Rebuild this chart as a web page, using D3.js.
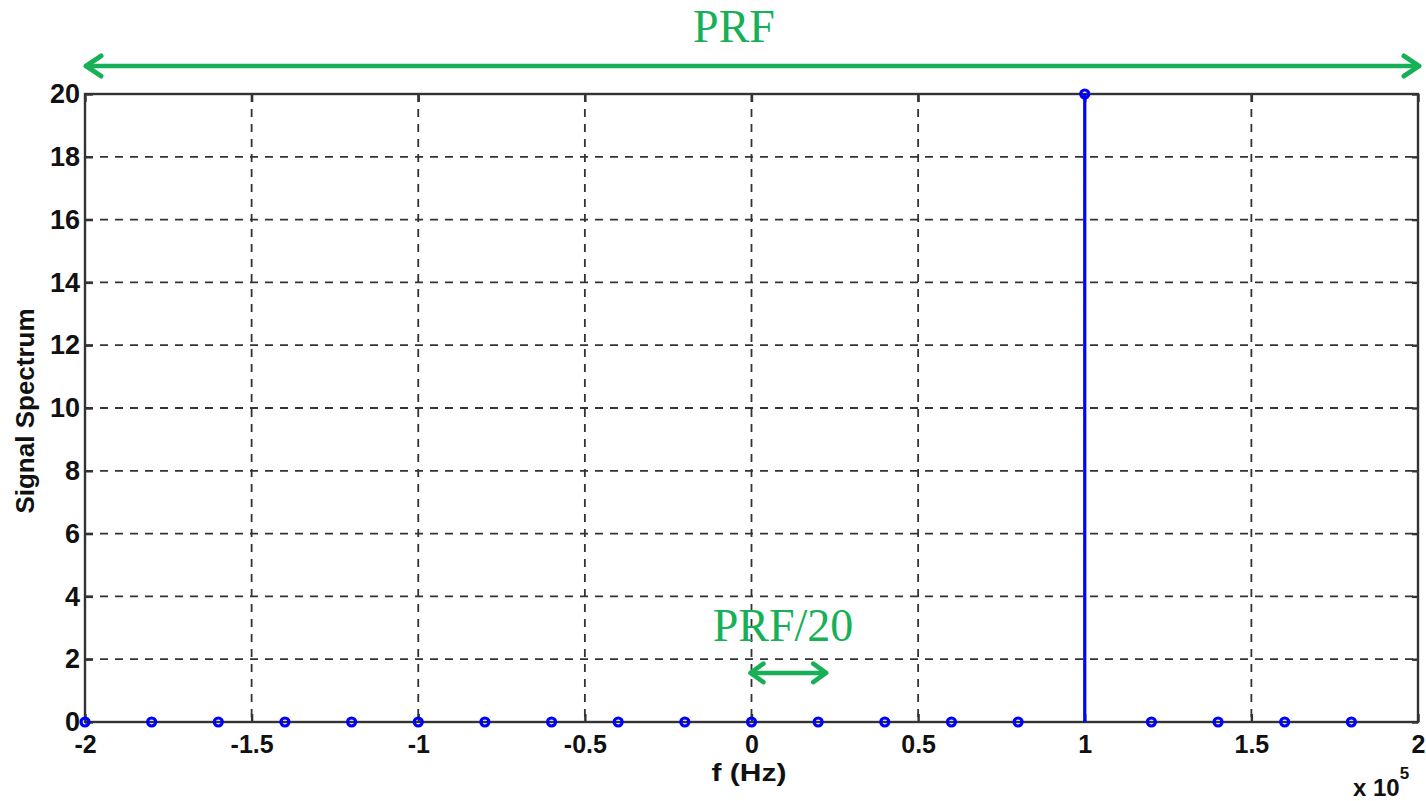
<!DOCTYPE html>
<html><head><meta charset="utf-8">
<script src="https://cdn.jsdelivr.net/npm/d3@7"></script>
<style>body{margin:0;background:#fff}</style>
</head><body>
<svg id="c" width="1426" height="801"></svg>
<script>
const freqs = [-2,-1.8,-1.6,-1.4,-1.2,-1,-0.8,-0.6,-0.4,-0.2,0,0.2,0.4,0.6,0.8,1,1.2,1.4,1.6,1.8];
const spectrum = [0,0,0,0,0,0,0,0,0,0,0,0,0,0,0,20,0,0,0,0];
const xTicks = [-2,-1.5,-1,-0.5,0,0.5,1,1.5,2];
const yTicks = [0,2,4,6,8,10,12,14,16,18,20];
const prfSpan = [-2,2];
const prf20Span = [0,0.2];
const prf20Level = 1.5;

const svg = d3.select('#c');
const L=85,R=1418,T=94,B=722;
const x = d3.scaleLinear().domain([-2,2]).range([L,R]);
const y = d3.scaleLinear().domain([0,20]).range([B,T]);
const axisColor='#333', green='#17b057';
const font='Arial, "Liberation Sans", sans-serif';

// grid
const g = svg.append('g');
g.selectAll('.gx').data(xTicks.slice(1,-1)).join('line')
 .attr('x1',d=>x(d)).attr('x2',d=>x(d)).attr('y1',T).attr('y2',B)
 .attr('stroke',axisColor).attr('stroke-width',1.8).attr('stroke-dasharray','8,7');
g.selectAll('.gy').data(yTicks.slice(1,-1)).join('line')
 .attr('y1',d=>y(d)).attr('y2',d=>y(d)).attr('x1',L).attr('x2',R)
 .attr('stroke',axisColor).attr('stroke-width',1.8).attr('stroke-dasharray','8,7');

// frame
svg.append('rect').attr('x',L).attr('y',T).attr('width',R-L).attr('height',B-T)
 .attr('fill','none').attr('stroke',axisColor).attr('stroke-width',2.4);

// axes
const xa = svg.append('g').attr('transform',`translate(0,${B})`)
 .call(d3.axisBottom(x).tickValues(xTicks).tickSize(-8).tickFormat(d=>String(d)));
const xt = svg.append('g').attr('transform',`translate(0,${T})`)
 .call(d3.axisTop(x).tickValues(xTicks).tickSize(-8).tickFormat(''));
const ya = svg.append('g').attr('transform',`translate(${L},0)`)
 .call(d3.axisLeft(y).tickValues(yTicks).tickSize(-8).tickPadding(5).tickFormat(d=>String(d)));
const yr = svg.append('g').attr('transform',`translate(${R},0)`)
 .call(d3.axisRight(y).tickValues(yTicks).tickSize(-6).tickFormat(''));
[xa,xt,ya,yr].forEach(a=>{
  a.select('.domain').remove();
  a.selectAll('.tick line').attr('stroke',axisColor).attr('stroke-width',2.4);
  a.selectAll('text').attr('font-family',font).attr('font-weight','bold').attr('fill','#111');
});
ya.selectAll('text').attr('font-size',27);
xa.selectAll('text').attr('font-size',25).attr('y',22).attr('dy','0.35em');

// stems
const data = freqs.map((f,i)=>({f,v:spectrum[i]}));
svg.selectAll('.stem').data(data.filter(d=>d.v!==0)).join('line')
 .attr('x1',d=>x(d.f)).attr('x2',d=>x(d.f)).attr('y1',y(0)).attr('y2',d=>y(d.v))
 .attr('stroke','#0000ff').attr('stroke-width',3.2);
svg.selectAll('.mk').data(data).join('circle')
 .attr('cx',d=>x(d.f)).attr('cy',d=>y(d.v)).attr('r',4)
 .attr('fill','none').attr('stroke','#0000ff').attr('stroke-width',3.2);

// labels
svg.append('text').attr('transform','translate(749,781) scale(1.25,1)').attr('text-anchor','middle')
 .attr('font-family',font).attr('font-weight','bold').attr('font-size',24).attr('fill','#111').text('f (Hz)');
svg.append('text').attr('transform','translate(34,411) rotate(-90)').attr('text-anchor','middle')
 .attr('font-family',font).attr('font-weight','bold').attr('font-size',26).attr('fill','#111').text('Signal Spectrum');
const ex = svg.append('text').attr('x',1353).attr('y',796)
 .attr('font-family',font).attr('font-weight','bold').attr('font-size',24).attr('fill','#111');
ex.append('tspan').text('x 10');
ex.append('tspan').attr('dy',-17).attr('font-size',17).text('5');

// arrows
svg.append('defs').html(`<marker id="ah" viewBox="0 0 26 26" refX="22" refY="13" markerWidth="26" markerHeight="26" markerUnits="userSpaceOnUse" orient="auto-start-reverse">
<path d="M7,3 L22,13 L7,23" fill="none" stroke="${green}" stroke-width="5" stroke-linecap="round" stroke-linejoin="round"/></marker>
<marker id="ah2" viewBox="0 0 26 26" refX="22" refY="13" markerWidth="24" markerHeight="24" markerUnits="userSpaceOnUse" orient="auto-start-reverse">
<path d="M8,3 L22,13 L8,23" fill="none" stroke="${green}" stroke-width="5" stroke-linecap="round" stroke-linejoin="round"/></marker>`);
svg.append('line').attr('x1',x(prfSpan[0])+1).attr('x2',x(prfSpan[1])+1).attr('y1',66).attr('y2',66)
 .attr('stroke',green).attr('stroke-width',4.5).attr('marker-start','url(#ah)').attr('marker-end','url(#ah)');
svg.append('line').attr('x1',x(prf20Span[0])-1).attr('x2',x(prf20Span[1])+8).attr('y1',y(prf20Level)-2).attr('y2',y(prf20Level)-2)
 .attr('stroke',green).attr('stroke-width',4.5).attr('marker-start','url(#ah2)').attr('marker-end','url(#ah2)');
svg.append('text').attr('x',734).attr('y',42).attr('text-anchor','middle')
 .attr('font-family','"Liberation Serif","DejaVu Serif",serif').attr('font-size',46).attr('fill',green).text('PRF');
svg.append('text').attr('x',783).attr('y',641).attr('text-anchor','middle')
 .attr('font-family','"Liberation Serif","DejaVu Serif",serif').attr('font-size',46).attr('fill',green).text('PRF/20');
</script>
</body></html>
